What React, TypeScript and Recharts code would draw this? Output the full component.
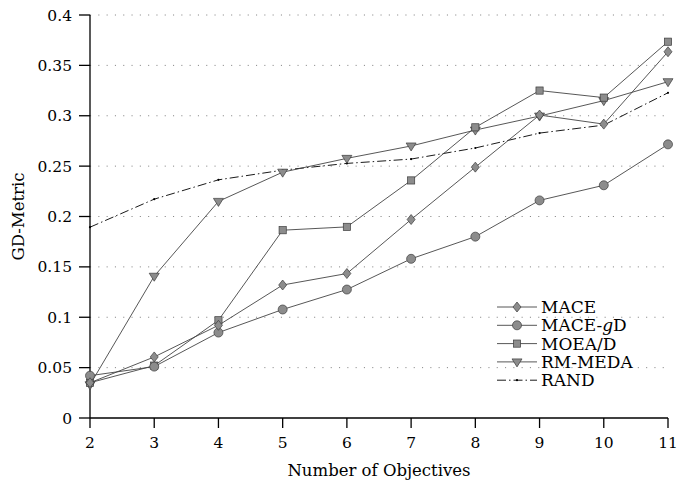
import React from 'react';
import { LineChart, Line, XAxis, YAxis, CartesianGrid, Label } from 'recharts';

const objectives = [2, 3, 4, 5, 6, 7, 8, 9, 10, 11];
const mace = [0.035, 0.0606, 0.092, 0.132, 0.1434, 0.197, 0.249, 0.3007, 0.2917, 0.3635];
const maceGd = [0.042, 0.051, 0.0848, 0.1077, 0.1275, 0.158, 0.18, 0.216, 0.231, 0.2716];
const moead = [0.035, 0.052, 0.097, 0.1864, 0.1897, 0.2358, 0.2885, 0.325, 0.318, 0.3735];
const rmmeda = [0.033, 0.1407, 0.215, 0.244, 0.2577, 0.27, 0.2858, 0.2997, 0.315, 0.3338];
const rand = [0.1894, 0.2172, 0.2364, 0.246, 0.2527, 0.257, 0.268, 0.2828, 0.2907, 0.3228];
const yTicks = [0, 0.05, 0.1, 0.15, 0.2, 0.25, 0.3, 0.35, 0.4];

const data = objectives.map((x, i) => ({
  x,
  mace: mace[i],
  maceGd: maceGd[i],
  moead: moead[i],
  rmmeda: rmmeda[i],
  rand: rand[i],
}));

const FONT = '"DejaVu Serif", "Liberation Serif", serif';
const FS = 15.5;
const FILL = '#8c8c8c';
const EDGE = '#3c3c3c';

type Kind = 'diamond' | 'circle' | 'square' | 'triangle' | 'dot';

function marker(kind: Kind, cx: number, cy: number, key?: any) {
  switch (kind) {
    case 'diamond':
      return <path key={key} d={`M${cx},${cy - 5} L${cx + 4},${cy} L${cx},${cy + 5} L${cx - 4},${cy} Z`} fill={FILL} stroke={EDGE} strokeWidth={0.7} />;
    case 'circle':
      return <circle key={key} cx={cx} cy={cy} r={4.5} fill={FILL} stroke={EDGE} strokeWidth={0.7} />;
    case 'square':
      return <rect key={key} x={cx - 3.6} y={cy - 3.6} width={7.2} height={7.2} fill={FILL} stroke={EDGE} strokeWidth={0.7} />;
    case 'triangle':
      return <path key={key} d={`M${cx - 5},${cy - 3} L${cx + 5},${cy - 3} L${cx},${cy + 5} Z`} fill={FILL} stroke={EDGE} strokeWidth={0.7} />;
    case 'dot':
      return <circle key={key} cx={cx} cy={cy} r={1.1} fill="#000" />;
  }
}

const dotFor = (kind: Kind) => (props: any) => {
  const { cx, cy, index } = props;
  return marker(kind, cx, cy, `${kind}-${index}`);
};

const legendItems: { name: React.ReactNode; kind: Kind; dash?: string; color: string }[] = [
  { name: 'MACE', kind: 'diamond', color: '#444' },
  { name: <>MACE-<tspan fontStyle="italic">g</tspan>D</>, kind: 'circle', color: '#444' },
  { name: 'MOEA/D', kind: 'square', color: '#444' },
  { name: 'RM-MEDA', kind: 'triangle', color: '#444' },
  { name: 'RAND', kind: 'dot', dash: '9 3 1.5 3', color: '#000' },
];

const LegendBox = () => (
  <svg width={175} height={100} style={{ position: 'absolute', left: 497, top: 298, display: 'block' }}>
    {legendItems.map((it, i) => {
      const y = 9 + i * 18.3;
      return (
        <g key={i}>
          <line x1={0} x2={40} y1={y} y2={y} stroke={it.color} strokeWidth={0.9} strokeDasharray={it.dash} />
          {marker(it.kind, 20, y)}
          <text x={44} y={y + 6} fontFamily={FONT} fontSize={17} fill="#000">{it.name}</text>
        </g>
      );
    })}
  </svg>
);

export default function App() {
  return (
    <div style={{ position: 'absolute', left: 0, top: 0, width: 677, height: 482, background: '#fff' }}>
      <LineChart width={677} height={482} data={data} margin={{ top: 15, right: 9, bottom: 30, left: 0 }}>
        <CartesianGrid vertical={false} stroke="#888" strokeDasharray="1.1 7.2" strokeWidth={1} horizontalValues={[0.05, 0.1, 0.15, 0.2, 0.25, 0.3, 0.35, 0.4]} />
        <XAxis
          dataKey="x"
          type="number"
          domain={[2, 11]}
          ticks={objectives}
          height={34}
          tickSize={10}
          tickMargin={9}
          stroke="#000"
          strokeWidth={1.3}
          tick={{ fill: '#000', fontFamily: FONT, fontSize: FS }}
          tickLine={{ stroke: '#000', strokeWidth: 1.3 }}
        >
          <Label value="Number of Objectives" position="bottom" offset={12} style={{ fontFamily: FONT, fontSize: 16.5, fill: '#000' }} />
        </XAxis>
        <YAxis
          type="number"
          domain={[0, 0.4]}
          ticks={yTicks}
          width={90}
          tickSize={11}
          tickMargin={7}
          stroke="#000"
          strokeWidth={1.3}
          tick={{ fill: '#000', fontFamily: FONT, fontSize: FS }}
          tickLine={{ stroke: '#000', strokeWidth: 1.3 }}
        >
          <Label value="GD-Metric" angle={-90} position="insideLeft" offset={18} style={{ fontFamily: FONT, fontSize: 16.5, fill: '#000', textAnchor: 'middle' }} />
        </YAxis>
        <Line dataKey="rand" stroke="#000" strokeWidth={0.9} strokeDasharray="9 3 1.5 3" dot={dotFor('dot')} isAnimationActive={false} />
        <Line dataKey="rmmeda" stroke="#444" strokeWidth={0.9} dot={dotFor('triangle')} isAnimationActive={false} />
        <Line dataKey="moead" stroke="#444" strokeWidth={0.9} dot={dotFor('square')} isAnimationActive={false} />
        <Line dataKey="maceGd" stroke="#444" strokeWidth={0.9} dot={dotFor('circle')} isAnimationActive={false} />
        <Line dataKey="mace" stroke="#444" strokeWidth={0.9} dot={dotFor('diamond')} isAnimationActive={false} />
      </LineChart>
      <LegendBox />
    </div>
  );
}
